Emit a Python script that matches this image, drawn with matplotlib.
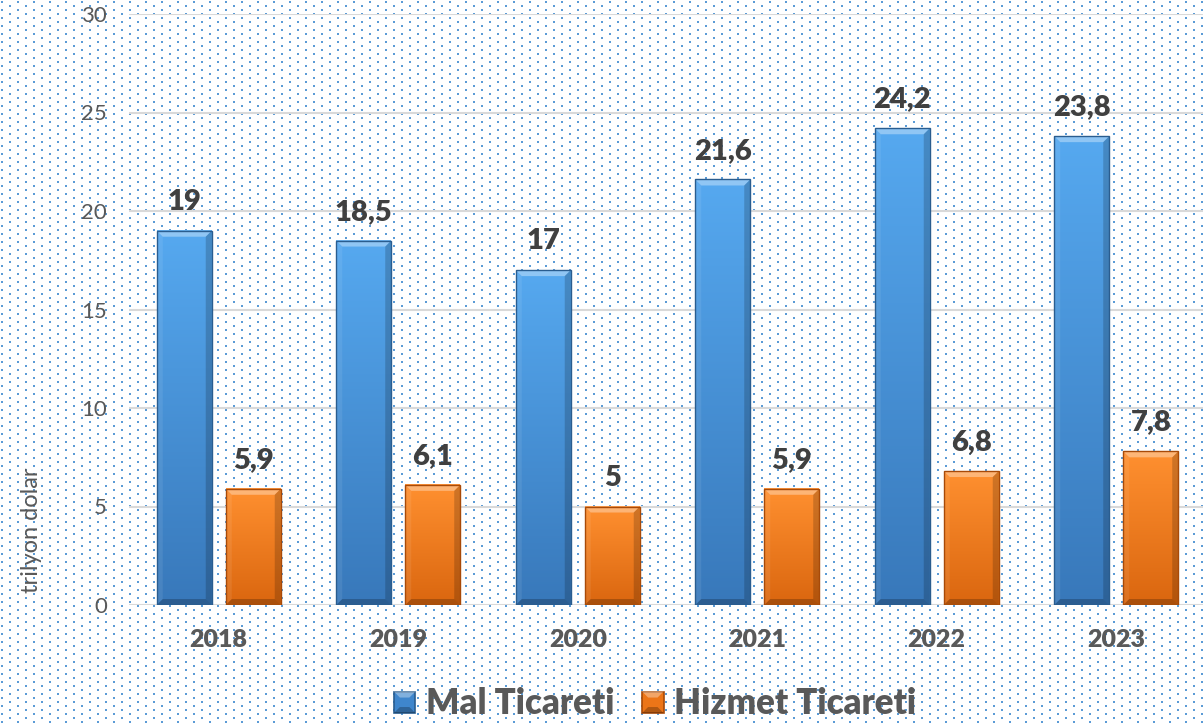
import numpy as np
import matplotlib
matplotlib.use("Agg")
import matplotlib.pyplot as plt
from matplotlib.patches import Polygon, Rectangle
from matplotlib.colors import LinearSegmentedColormap
from matplotlib.legend_handler import HandlerPatch

plt.rcParams['font.family'] = ['Lato', 'DejaVu Sans']

# ---- data ----
years = ['2018', '2019', '2020', '2021', '2022', '2023']
mal_ticareti = [19, 18.5, 17, 21.6, 24.2, 23.8]
hizmet_ticareti = [5.9, 6.1, 5, 5.9, 6.8, 7.8]
series_names = ['Mal Ticareti', 'Hizmet Ticareti']
y_ticks = [0, 5, 10, 15, 20, 25, 30]
y_label = 'trilyon dolar'

W, H = 1203, 724
fig = plt.figure(figsize=(W / 100, H / 100), dpi=100)

# dotted background pattern
bg = np.ones((H, W, 3))
dot = np.array([0.36, 0.61, 0.84])
for j in range(0, H // 4 + 1):
    yy = 4 * j + 1
    if yy >= H:
        break
    for xx in range(1 + 8 * (j % 2), W, 16):
        bg[yy:yy + 2, xx:xx + 2] = dot
fig.figimage(bg, xo=0, yo=0, origin='upper', zorder=-10)

ax = fig.add_axes([129 / W, 119 / H, 1077 / W, 591 / H])
ax.set_facecolor('none')
for s in ax.spines.values():
    s.set_visible(False)

x = np.arange(len(years))
cat_px = 179.5
off = 34.5 / cat_px
bw = 55 / cat_px

styles = [
    dict(top='#56A9F0', bot='#3878BA', edge='#2A5D8F', mid='#3F86CC'),
    dict(top='#FF9030', bot='#DA660F', edge='#A84A08', mid='#EC7518'),
]

ax.set_xlim(-0.5, 5.5)
ax.set_ylim(0, 30)
px_x = cat_px
px_y = 591 / 30.0
bev = 6
dx = bev / px_x
dy = bev / px_y

for vals, sign, st in [(mal_ticareti, -1, styles[0]), (hizmet_ticareti, 1, styles[1])]:
    bars = ax.bar(x + sign * off, vals, bw, facecolor='none', edgecolor=st['edge'],
                  linewidth=1.0, zorder=3.5)
    cmap = LinearSegmentedColormap.from_list('g', [st['bot'], st['top']])
    for p in bars.patches:
        bx, by = p.get_x(), p.get_y()
        w, h = p.get_width(), p.get_height()
        top = by + h
        grad = np.linspace(1, 0, 256).reshape(-1, 1)
        ax.imshow(grad, cmap=cmap, extent=[bx, bx + w, by, top], aspect='auto',
                  origin='upper', zorder=3, interpolation='bicubic')
        ax.add_patch(Polygon([(bx, top), (bx + w, top), (bx + w - dx, top - dy), (bx + dx, top - dy)],
                             closed=True, facecolor='white', alpha=0.35, edgecolor='none', zorder=3.2))
        ax.add_patch(Polygon([(bx + w, top), (bx + w, by), (bx + w - dx, by + dy), (bx + w - dx, top - dy)],
                             closed=True, facecolor='black', alpha=0.18, edgecolor='none', zorder=3.2))
        ax.add_patch(Polygon([(bx, by), (bx + w, by), (bx + w - dx, by + dy), (bx + dx, by + dy)],
                             closed=True, facecolor='black', alpha=0.22, edgecolor='none', zorder=3.2))
        ax.add_patch(Polygon([(bx, by), (bx, top), (bx + dx, top - dy), (bx + dx, by + dy)],
                             closed=True, facecolor='white', alpha=0.08, edgecolor='none', zorder=3.2))
        lbl = f"{h:g}".replace('.', ',')
        ax.annotate(lbl, (bx + w / 2, top), xytext=(0, 15), textcoords='offset points',
                    ha='center', va='baseline', fontsize=21, fontweight='heavy', color='#404040')

ax.set_xlim(-0.5, 5.5)
ax.set_ylim(0, 30)
ax.set_yticks(y_ticks)
ax.set_yticklabels([str(t) for t in y_ticks], fontsize=16, color='#595959')
ax.set_xticks(x)
ax.set_xticklabels(years, fontsize=18, fontweight='heavy', color='#595959')
ax.yaxis.grid(True, color='#D9D9D9', linewidth=1.5, zorder=0)
ax.set_axisbelow(True)
ax.tick_params(axis='y', length=0, pad=16)
ax.tick_params(axis='x', length=0, pad=17)

fig.text(31 / W, 1 - 530 / H, y_label, rotation=90, ha='center', va='center',
         fontsize=17, color='#595959')


class BevelHandler(HandlerPatch):
    def create_artists(self, legend, orig_handle, xdescent, ydescent, width, height, fontsize, trans):
        s = min(width, height)
        x0 = -xdescent + (width - s) / 2
        y0 = -ydescent + (height - s) / 2
        fc = orig_handle.get_facecolor()
        ec = orig_handle.get_edgecolor()
        b = s * 0.28
        arts = [Rectangle((x0, y0), s, s, facecolor=fc, edgecolor=ec, linewidth=1.2, transform=trans)]
        arts.append(Polygon([(x0, y0 + s), (x0 + s, y0 + s), (x0 + s - b, y0 + s - b), (x0 + b, y0 + s - b)],
                            closed=True, facecolor='white', alpha=0.35, edgecolor='none', transform=trans))
        arts.append(Polygon([(x0, y0), (x0 + s, y0), (x0 + s - b, y0 + b), (x0 + b, y0 + b)],
                            closed=True, facecolor='black', alpha=0.25, edgecolor='none', transform=trans))
        return arts


handles = [Rectangle((0, 0), 1, 1, facecolor=styles[0]['mid'], edgecolor=styles[0]['edge']),
           Rectangle((0, 0), 1, 1, facecolor=styles[1]['mid'], edgecolor=styles[1]['edge'])]
fig.legend(handles, series_names, loc='center', bbox_to_anchor=(655 / W, 20 / H), ncol=2,
           frameon=False, prop={'weight': 'heavy', 'size': 25}, labelcolor='#595959',
           handlelength=0.62, handleheight=0.62, handletextpad=0.3, columnspacing=0.8,
           borderpad=0.1, handler_map={Rectangle: BevelHandler()})

fig.savefig('out.png', dpi=100)
